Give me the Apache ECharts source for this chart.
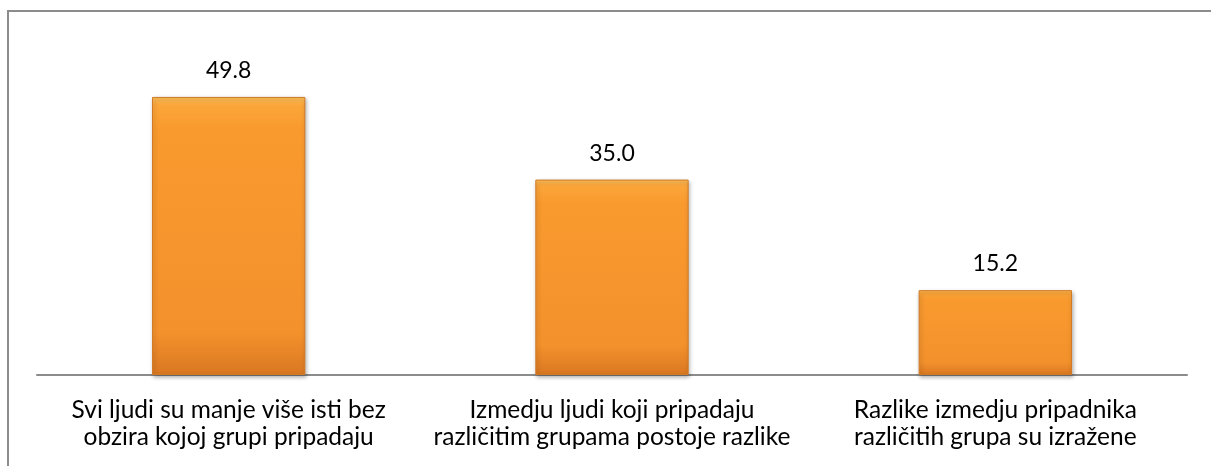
<!DOCTYPE html>
<html>
<head>
<meta charset="utf-8">
<script src="https://cdn.jsdelivr.net/npm/echarts@6/dist/echarts.min.js"></script>
<style>
html,body{margin:0;padding:0;background:#fff;}
#chart{width:1211px;height:466px;}
</style>
</head>
<body>
<div id="chart"></div>
<script>
const categories = [
  "Svi ljudi su manje više isti bez\nobzira kojoj grupi pripadaju",
  "Izmedju ljudi koji pripadaju\nrazličitim grupama postoje razlike",
  "Razlike izmedju pripadnika\nrazličitih grupa su izražene"
];
const values = [49.8, 35.0, 15.2];

const chart = echarts.init(document.getElementById('chart'));
const FONT = 'Lato, "Open Sans", sans-serif';
chart.setOption({
  animation: false,
  graphic: [{
    type: 'rect',
    shape: { x: 8, y: 11, width: 1300, height: 500 },
    style: { fill: 'none', stroke: '#8c8c8c', lineWidth: 2 },
    silent: true
  }],
  grid: { left: 37, right: 24, top: 40, bottom: 91, containLabel: false },
  xAxis: {
    type: 'category',
    data: categories,
    axisLine: { lineStyle: { color: '#8c8c8c', width: 2 } },
    axisTick: { show: false },
    axisLabel: {
      color: '#000',
      fontFamily: FONT,
      fontSize: 24.5,
      lineHeight: 27,
      margin: 22,
      interval: 0
    }
  },
  yAxis: {
    type: 'value',
    min: 0,
    max: 60,
    show: false
  },
  series: [{
    type: 'bar',
    data: values,
    barWidth: '40%',
    itemStyle: {
      color: {
        type: 'linear', x: 0, y: 0, x2: 0, y2: 1,
        colorStops: [
          { offset: 0, color: '#FDC15A' },
          { offset: 0.03, color: '#FBA63A' },
          { offset: 0.12, color: '#F99A2E' },
          { offset: 0.85, color: '#F3912C' },
          { offset: 1, color: '#D97722' }
        ],
        global: false
      },
      borderColor: '#D27A26',
      borderWidth: 1,
      shadowColor: 'rgba(0,0,0,0.3)',
      shadowBlur: 4,
      shadowOffsetX: 1,
      shadowOffsetY: 2
    },
    label: {
      show: true,
      position: 'top',
      distance: 15,
      color: '#000',
      fontFamily: FONT,
      fontSize: 23,
      formatter: p => p.value.toFixed(1)
    }
  }]
});
</script>
</body>
</html>
